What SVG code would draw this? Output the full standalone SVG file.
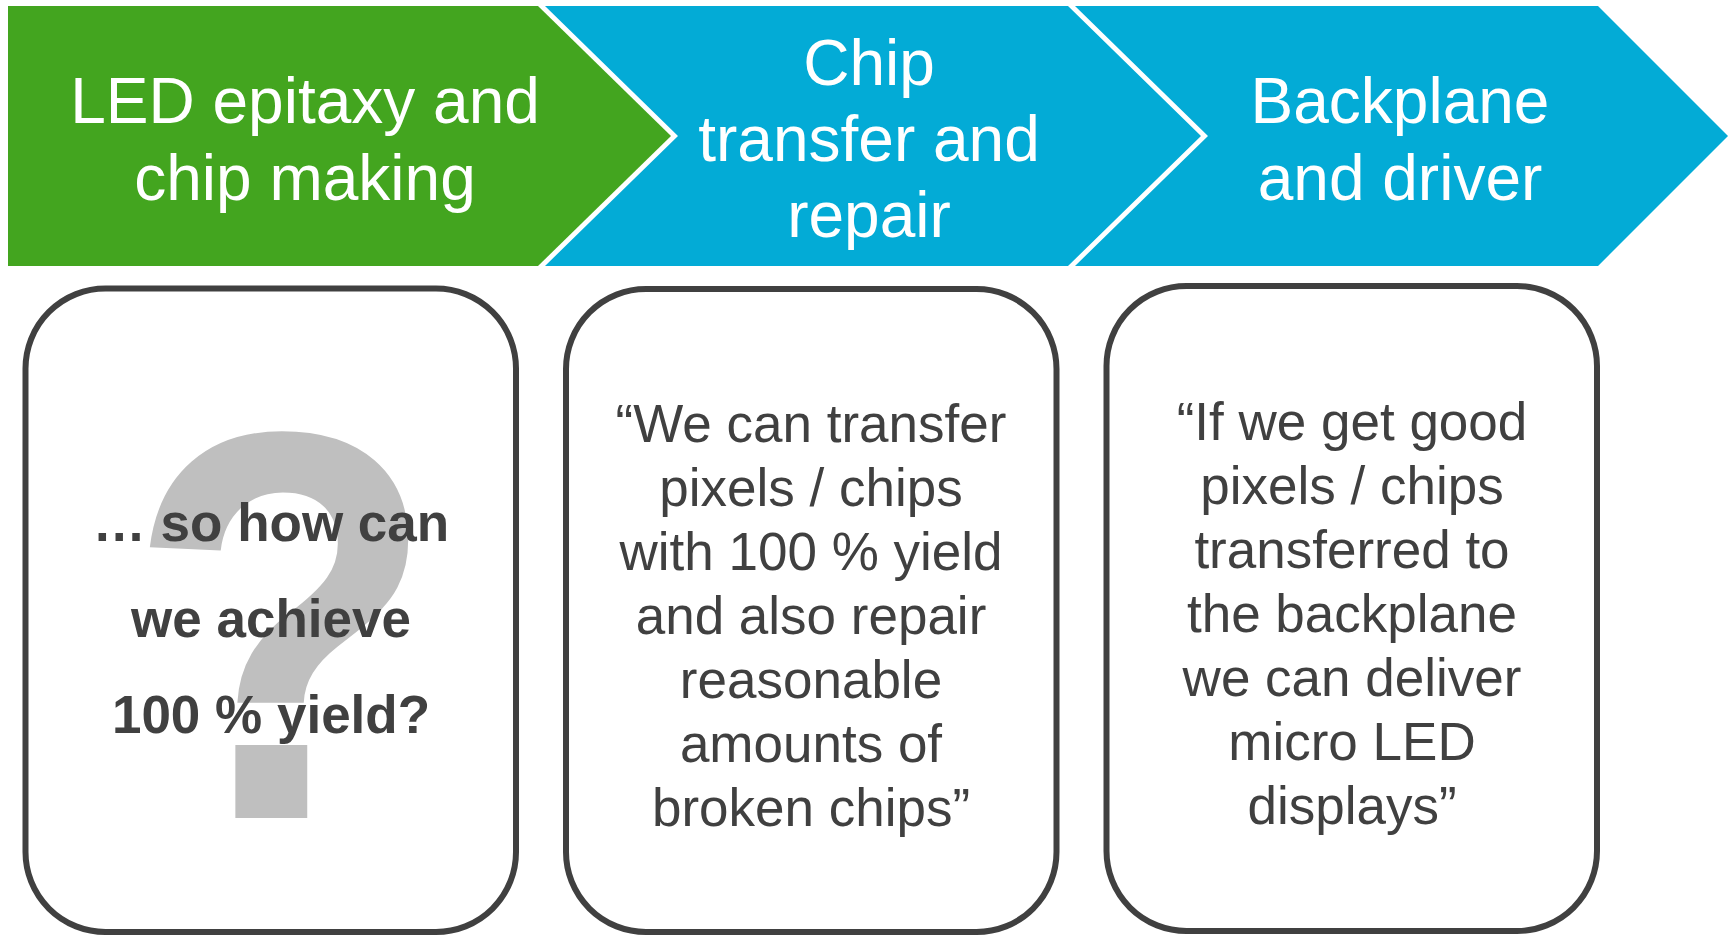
<svg xmlns="http://www.w3.org/2000/svg" width="1733" height="938" viewBox="0 0 1733 938">
  <style>
    .stage-green { fill: #43a51f; }
    .stage-blue { fill: #03abd6; }
    .stage-label { font-family: "Liberation Sans", Arial, sans-serif; font-size: 64px; fill: #ffffff; text-anchor: middle; }
    .card { fill: #ffffff; stroke: #404040; stroke-width: 6; }
    .quote { font-family: "Liberation Sans", Arial, sans-serif; font-size: 53px; fill: #404040; text-anchor: middle; }
    .question { font-family: "Liberation Sans", Arial, sans-serif; font-size: 53px; font-weight: bold; fill: #404040; text-anchor: middle; }
    .big-mark { font-family: "Liberation Sans", Arial, sans-serif; font-size: 525px; font-weight: bold; fill: #bfbfbf; text-anchor: middle; }
  </style>
  <rect width="1733" height="938" fill="#ffffff"/>

  <!-- process stages -->
  <g id="stage-epitaxy">
    <polygon class="stage-green" points="8,6 538,6 671,136 538,266 8,266"/>
    <text class="stage-label" x="305" y="123">LED epitaxy and</text>
    <text class="stage-label" x="305" y="200">chip making</text>
  </g>
  <g id="stage-transfer">
    <polygon class="stage-blue" points="545,6 1068,6 1201,136 1068,266 545,266 678,136"/>
    <text class="stage-label" x="869" y="85">Chip</text>
    <text class="stage-label" x="869" y="161">transfer and</text>
    <text class="stage-label" x="869" y="237">repair</text>
  </g>
  <g id="stage-backplane">
    <polygon class="stage-blue" points="1075,6 1598,6 1728,136 1598,266 1075,266 1208,136"/>
    <text class="stage-label" x="1400" y="123">Backplane</text>
    <text class="stage-label" x="1400" y="200">and driver</text>
  </g>

  <!-- statement cards -->
  <g id="card-epitaxy">
    <rect class="card" x="25.5" y="288.5" width="490.5" height="643.5" rx="80" ry="80"/>
    <text class="big-mark" transform="translate(282,818) scale(0.97,1.055)">?</text>
    <text class="question" x="271" y="541">… so how can</text>
    <text class="question" x="271" y="637">we achieve</text>
    <text class="question" x="271" y="733">100 % yield?</text>
  </g>
  <g id="card-transfer">
    <rect class="card" x="566" y="289" width="490.5" height="643" rx="80" ry="80"/>
    <text class="quote" x="811" y="442">“We can transfer</text>
    <text class="quote" x="811" y="506">pixels / chips</text>
    <text class="quote" x="811" y="570">with 100 % yield</text>
    <text class="quote" x="811" y="634">and also repair</text>
    <text class="quote" x="811" y="698">reasonable</text>
    <text class="quote" x="811" y="762">amounts of</text>
    <text class="quote" x="811" y="826">broken chips”</text>
  </g>
  <g id="card-backplane">
    <rect class="card" x="1106.5" y="286" width="490.5" height="645" rx="80" ry="80"/>
    <text class="quote" x="1352" y="440">“If we get good</text>
    <text class="quote" x="1352" y="504">pixels / chips</text>
    <text class="quote" x="1352" y="568">transferred to</text>
    <text class="quote" x="1352" y="632">the backplane</text>
    <text class="quote" x="1352" y="696">we can deliver</text>
    <text class="quote" x="1352" y="760">micro LED</text>
    <text class="quote" x="1352" y="824">displays”</text>
  </g>
</svg>
